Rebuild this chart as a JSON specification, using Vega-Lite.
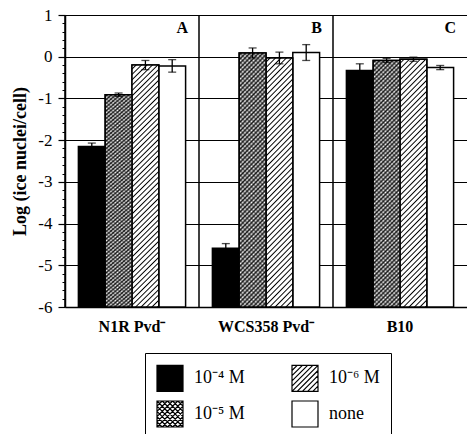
{
"$schema": "https://vega.github.io/schema/vega-lite/v6.json",
"width": 402,
"height": 292,
"autosize": {"type": "none"},
"padding": {"left": 65, "top": 15, "right": 0, "bottom": 127},
"datasets": {
"bars": [
{"s":"N1R Pvd⁻","t":"10⁻⁴ M","v":-2.15,"lo":-2.23,"hi":-2.07},
{"s":"N1R Pvd⁻","t":"10⁻⁵ M","v":-0.91,"lo":-0.95,"hi":-0.87},
{"s":"N1R Pvd⁻","t":"10⁻⁶ M","v":-0.2,"lo":-0.31,"hi":-0.09},
{"s":"N1R Pvd⁻","t":"none","v":-0.22,"lo":-0.37,"hi":-0.07},
{"s":"WCS358 Pvd⁻","t":"10⁻⁴ M","v":-4.59,"lo":-4.7,"hi":-4.48},
{"s":"WCS358 Pvd⁻","t":"10⁻⁵ M","v":0.09,"lo":-0.03,"hi":0.21},
{"s":"WCS358 Pvd⁻","t":"10⁻⁶ M","v":-0.03,"lo":-0.17,"hi":0.11},
{"s":"WCS358 Pvd⁻","t":"none","v":0.1,"lo":-0.09,"hi":0.29},
{"s":"B10","t":"10⁻⁴ M","v":-0.33,"lo":-0.49,"hi":-0.17},
{"s":"B10","t":"10⁻⁵ M","v":-0.09,"lo":-0.14,"hi":-0.04},
{"s":"B10","t":"10⁻⁶ M","v":-0.06,"lo":-0.11,"hi":-0.01},
{"s":"B10","t":"none","v":-0.26,"lo":-0.31,"hi":-0.21}
],
"panels": [
{"s":"N1R Pvd⁻","p":"A"},
{"s":"WCS358 Pvd⁻","p":"B"},
{"s":"B10","p":"C"}
]
},
"config": {
"view": {"stroke": null},
"axisX": {"ticks": false, "tickSize": 0, "domainColor": "black", "domainWidth": 1.5, "labelFont": "Liberation Serif", "labelFontWeight": "bold", "labelFontSize": 16, "labelColor": "black", "labelPadding": 11, "labelAngle": 0, "grid": false}
},
"resolve": {"axis": {"y": "independent"}},
"layer": [
{
"data": {"name": "panels"},
"mark": {"type": "rule", "color": "black", "strokeWidth": 1.5},
"encoding": {
"x": {"field": "s", "type": "nominal", "bandPosition": 0, "title": null, "scale": {"domain": ["N1R Pvd⁻","WCS358 Pvd⁻","B10"], "paddingInner": 0, "paddingOuter": 0}}
}
},
{
"data": {"name": "bars"},
"resolve": {"axis": {"y": "independent"}},
"encoding": {
"x": {"field": "s", "type": "nominal", "title": null, "scale": {"domain": ["N1R Pvd⁻","WCS358 Pvd⁻","B10"], "paddingInner": 0, "paddingOuter": 0}},
"xOffset": {"field": "t", "type": "nominal", "scale": {"domain": ["10⁻⁴ M","10⁻⁵ M","10⁻⁶ M","none"], "paddingInner": 0, "paddingOuter": 0.5}}
},
"layer": [
{
"mark": {"type": "bar", "stroke": "black", "strokeWidth": 1.5},
"encoding": {
"y": {"field": "v", "type": "quantitative", "title": "Log (ice nuclei/cell)", "scale": {"domain": [-6, 1], "nice": false, "zero": false},
"axis": {
"orient": "left",
"values": [-6,-5,-4,-3,-2,-1,0,1],
"grid": true, "gridColor": "black", "gridWidth": 1.2,
"tickSize": 7, "tickColor": "black", "tickWidth": 1.2,
"domainColor": "black", "domainWidth": 1.5,
"labelExpr": "'' + datum.value",
"labelFont": "Liberation Serif", "labelFontSize": 17, "labelColor": "black", "labelPadding": 6, "labelFlush": false,
"titleFont": "Liberation Serif", "titleFontSize": 18, "titleFontWeight": "bold", "titleColor": "black", "titlePadding": 8
}
},
"y2": {"datum": -6},
"fill": {"field": "t", "type": "nominal",
"scale": {"domain": ["10⁻⁴ M","10⁻⁵ M","10⁻⁶ M","none"], "range": ["black","white","white","white"]},
"legend": {
"title": null, "orient": "none", "legendX": 80, "legendY": 338,
"columns": 2, "columnPadding": 44, "rowPadding": 4, "padding": 11,
"strokeColor": "black",
"symbolType": "square", "symbolSize": 676, "symbolStrokeColor": "black", "symbolStrokeWidth": 1.2, "symbolOpacity": 1,
"labelFont": "Liberation Serif", "labelFontSize": 18, "labelColor": "black", "labelOffset": 10, "labelLimit": 200
}
}
}
},
{
"transform": [{"filter": "false"}],
"mark": {"type": "point", "filled": false},
"encoding": {
"y": {"field": "v", "type": "quantitative", "axis": null},
"shape": {"field": "t", "type": "nominal",
"scale": {"domain": ["10⁻⁴ M","10⁻⁵ M","10⁻⁶ M","none"], "range": ["square",
"M-1,-1H1V1H-1Z M-0.6,-1L-1,-0.6 M-0.2,-1L-1,-0.2 M0.2,-1L-1,0.2 M0.6,-1L-1,0.6 M1,-1L-1,1 M1,-0.6L-0.6,1 M1,-0.2L-0.2,1 M1,0.2L0.2,1 M1,0.6L0.6,1 M-1,-1L1,1 M-0.6,-1L1,0.6 M-0.2,-1L1,0.2 M0.2,-1L1,-0.2 M0.6,-1L1,-0.6 M-1,-0.6L0.6,1 M-1,-0.2L0.2,1 M-1,0.2L-0.2,1 M-1,0.6L-0.6,1",
"M-1,-1H1V1H-1Z M-0.6,-1L-1,-0.6 M-0.2,-1L-1,-0.2 M0.2,-1L-1,0.2 M0.6,-1L-1,0.6 M1,-1L-1,1 M1,-0.6L-0.6,1 M1,-0.2L-0.2,1 M1,0.2L0.2,1 M1,0.6L0.6,1",
"square"]},
"legend": {
"title": null, "orient": "none", "legendX": 80, "legendY": 338,
"columns": 2, "columnPadding": 44, "rowPadding": 4, "padding": 11,
"strokeColor": "black",
"symbolType": "square", "symbolSize": 676, "symbolStrokeColor": "black", "symbolStrokeWidth": 1.2, "symbolOpacity": 1,
"labelFont": "Liberation Serif", "labelFontSize": 18, "labelColor": "black", "labelOffset": 10, "labelLimit": 200
}
}
}
},
{
"transform": [{"filter": {"field": "t", "equal": "10⁻⁶ M"}}],
"mark": {"type": "bar", "stroke": "black", "strokeWidth": 1.5, "fill": {"gradient": "linear", "x1": 0, "y1": 0, "x2": 0.12, "y2": 1.096, "stops": [
{"offset":0.01,"color":"#fff"},{"offset":0.015,"color":"#000"},{"offset":0.02,"color":"#fff"},
{"offset":0.03,"color":"#fff"},{"offset":0.035,"color":"#000"},{"offset":0.04,"color":"#fff"},
{"offset":0.05,"color":"#fff"},{"offset":0.055,"color":"#000"},{"offset":0.06,"color":"#fff"},
{"offset":0.07,"color":"#fff"},{"offset":0.075,"color":"#000"},{"offset":0.08,"color":"#fff"},
{"offset":0.09,"color":"#fff"},{"offset":0.095,"color":"#000"},{"offset":0.1,"color":"#fff"},
{"offset":0.11,"color":"#fff"},{"offset":0.115,"color":"#000"},{"offset":0.12,"color":"#fff"},
{"offset":0.13,"color":"#fff"},{"offset":0.135,"color":"#000"},{"offset":0.14,"color":"#fff"},
{"offset":0.15,"color":"#fff"},{"offset":0.155,"color":"#000"},{"offset":0.16,"color":"#fff"},
{"offset":0.17,"color":"#fff"},{"offset":0.175,"color":"#000"},{"offset":0.18,"color":"#fff"},
{"offset":0.19,"color":"#fff"},{"offset":0.195,"color":"#000"},{"offset":0.2,"color":"#fff"},
{"offset":0.21,"color":"#fff"},{"offset":0.215,"color":"#000"},{"offset":0.22,"color":"#fff"},
{"offset":0.23,"color":"#fff"},{"offset":0.235,"color":"#000"},{"offset":0.24,"color":"#fff"},
{"offset":0.25,"color":"#fff"},{"offset":0.255,"color":"#000"},{"offset":0.26,"color":"#fff"},
{"offset":0.27,"color":"#fff"},{"offset":0.275,"color":"#000"},{"offset":0.28,"color":"#fff"},
{"offset":0.29,"color":"#fff"},{"offset":0.295,"color":"#000"},{"offset":0.3,"color":"#fff"},
{"offset":0.31,"color":"#fff"},{"offset":0.315,"color":"#000"},{"offset":0.32,"color":"#fff"},
{"offset":0.33,"color":"#fff"},{"offset":0.335,"color":"#000"},{"offset":0.34,"color":"#fff"},
{"offset":0.35,"color":"#fff"},{"offset":0.355,"color":"#000"},{"offset":0.36,"color":"#fff"},
{"offset":0.37,"color":"#fff"},{"offset":0.375,"color":"#000"},{"offset":0.38,"color":"#fff"},
{"offset":0.39,"color":"#fff"},{"offset":0.395,"color":"#000"},{"offset":0.4,"color":"#fff"},
{"offset":0.41,"color":"#fff"},{"offset":0.415,"color":"#000"},{"offset":0.42,"color":"#fff"},
{"offset":0.43,"color":"#fff"},{"offset":0.435,"color":"#000"},{"offset":0.44,"color":"#fff"},
{"offset":0.45,"color":"#fff"},{"offset":0.455,"color":"#000"},{"offset":0.46,"color":"#fff"},
{"offset":0.47,"color":"#fff"},{"offset":0.475,"color":"#000"},{"offset":0.48,"color":"#fff"},
{"offset":0.49,"color":"#fff"},{"offset":0.495,"color":"#000"},{"offset":0.5,"color":"#fff"},
{"offset":0.51,"color":"#fff"},{"offset":0.515,"color":"#000"},{"offset":0.52,"color":"#fff"},
{"offset":0.53,"color":"#fff"},{"offset":0.535,"color":"#000"},{"offset":0.54,"color":"#fff"},
{"offset":0.55,"color":"#fff"},{"offset":0.555,"color":"#000"},{"offset":0.56,"color":"#fff"},
{"offset":0.57,"color":"#fff"},{"offset":0.575,"color":"#000"},{"offset":0.58,"color":"#fff"},
{"offset":0.59,"color":"#fff"},{"offset":0.595,"color":"#000"},{"offset":0.6,"color":"#fff"},
{"offset":0.61,"color":"#fff"},{"offset":0.615,"color":"#000"},{"offset":0.62,"color":"#fff"},
{"offset":0.63,"color":"#fff"},{"offset":0.635,"color":"#000"},{"offset":0.64,"color":"#fff"},
{"offset":0.65,"color":"#fff"},{"offset":0.655,"color":"#000"},{"offset":0.66,"color":"#fff"},
{"offset":0.67,"color":"#fff"},{"offset":0.675,"color":"#000"},{"offset":0.68,"color":"#fff"},
{"offset":0.69,"color":"#fff"},{"offset":0.695,"color":"#000"},{"offset":0.7,"color":"#fff"},
{"offset":0.71,"color":"#fff"},{"offset":0.715,"color":"#000"},{"offset":0.72,"color":"#fff"},
{"offset":0.73,"color":"#fff"},{"offset":0.735,"color":"#000"},{"offset":0.74,"color":"#fff"},
{"offset":0.75,"color":"#fff"},{"offset":0.755,"color":"#000"},{"offset":0.76,"color":"#fff"},
{"offset":0.77,"color":"#fff"},{"offset":0.775,"color":"#000"},{"offset":0.78,"color":"#fff"},
{"offset":0.79,"color":"#fff"},{"offset":0.795,"color":"#000"},{"offset":0.8,"color":"#fff"},
{"offset":0.81,"color":"#fff"},{"offset":0.815,"color":"#000"},{"offset":0.82,"color":"#fff"},
{"offset":0.83,"color":"#fff"},{"offset":0.835,"color":"#000"},{"offset":0.84,"color":"#fff"},
{"offset":0.85,"color":"#fff"},{"offset":0.855,"color":"#000"},{"offset":0.86,"color":"#fff"},
{"offset":0.87,"color":"#fff"},{"offset":0.875,"color":"#000"},{"offset":0.88,"color":"#fff"},
{"offset":0.89,"color":"#fff"},{"offset":0.895,"color":"#000"},{"offset":0.9,"color":"#fff"},
{"offset":0.91,"color":"#fff"},{"offset":0.915,"color":"#000"},{"offset":0.92,"color":"#fff"},
{"offset":0.93,"color":"#fff"},{"offset":0.935,"color":"#000"},{"offset":0.94,"color":"#fff"},
{"offset":0.95,"color":"#fff"},{"offset":0.955,"color":"#000"},{"offset":0.96,"color":"#fff"},
{"offset":0.97,"color":"#fff"},{"offset":0.975,"color":"#000"},{"offset":0.98,"color":"#fff"},
{"offset":0.99,"color":"#fff"},{"offset":0.995,"color":"#000"},{"offset":1,"color":"#fff"}
]}},
"encoding": {
"y": {"field": "v", "type": "quantitative", "axis": null},
"y2": {"datum": -6}
}
},
{
"transform": [{"filter": {"field": "t", "equal": "10⁻⁵ M"}}],
"mark": {"type": "bar", "strokeWidth": 0, "fill": {"gradient": "linear", "x1": 0, "y1": 0, "x2": 0.12, "y2": 1.096, "stops": [
{"offset":0,"color":"#fff"},{"offset":0.008,"color":"#222"},{"offset":0.016,"color":"#fff"},{"offset":0.024,"color":"#222"},{"offset":0.032,"color":"#fff"},
{"offset":0.04,"color":"#222"},{"offset":0.048,"color":"#fff"},{"offset":0.056,"color":"#222"},{"offset":0.064,"color":"#fff"},{"offset":0.072,"color":"#222"},
{"offset":0.08,"color":"#fff"},{"offset":0.088,"color":"#222"},{"offset":0.096,"color":"#fff"},{"offset":0.104,"color":"#222"},{"offset":0.112,"color":"#fff"},
{"offset":0.12,"color":"#222"},{"offset":0.128,"color":"#fff"},{"offset":0.136,"color":"#222"},{"offset":0.144,"color":"#fff"},{"offset":0.152,"color":"#222"},
{"offset":0.16,"color":"#fff"},{"offset":0.168,"color":"#222"},{"offset":0.176,"color":"#fff"},{"offset":0.184,"color":"#222"},{"offset":0.192,"color":"#fff"},
{"offset":0.2,"color":"#222"},{"offset":0.208,"color":"#fff"},{"offset":0.216,"color":"#222"},{"offset":0.224,"color":"#fff"},{"offset":0.232,"color":"#222"},
{"offset":0.24,"color":"#fff"},{"offset":0.248,"color":"#222"},{"offset":0.256,"color":"#fff"},{"offset":0.264,"color":"#222"},{"offset":0.272,"color":"#fff"},
{"offset":0.28,"color":"#222"},{"offset":0.288,"color":"#fff"},{"offset":0.296,"color":"#222"},{"offset":0.304,"color":"#fff"},{"offset":0.312,"color":"#222"},
{"offset":0.32,"color":"#fff"},{"offset":0.328,"color":"#222"},{"offset":0.336,"color":"#fff"},{"offset":0.344,"color":"#222"},{"offset":0.352,"color":"#fff"},
{"offset":0.36,"color":"#222"},{"offset":0.368,"color":"#fff"},{"offset":0.376,"color":"#222"},{"offset":0.384,"color":"#fff"},{"offset":0.392,"color":"#222"},
{"offset":0.4,"color":"#fff"},{"offset":0.408,"color":"#222"},{"offset":0.416,"color":"#fff"},{"offset":0.424,"color":"#222"},{"offset":0.432,"color":"#fff"},
{"offset":0.44,"color":"#222"},{"offset":0.448,"color":"#fff"},{"offset":0.456,"color":"#222"},{"offset":0.464,"color":"#fff"},{"offset":0.472,"color":"#222"},
{"offset":0.48,"color":"#fff"},{"offset":0.488,"color":"#222"},{"offset":0.496,"color":"#fff"},{"offset":0.504,"color":"#222"},{"offset":0.512,"color":"#fff"},
{"offset":0.52,"color":"#222"},{"offset":0.528,"color":"#fff"},{"offset":0.536,"color":"#222"},{"offset":0.544,"color":"#fff"},{"offset":0.552,"color":"#222"},
{"offset":0.56,"color":"#fff"},{"offset":0.568,"color":"#222"},{"offset":0.576,"color":"#fff"},{"offset":0.584,"color":"#222"},{"offset":0.592,"color":"#fff"},
{"offset":0.6,"color":"#222"},{"offset":0.608,"color":"#fff"},{"offset":0.616,"color":"#222"},{"offset":0.624,"color":"#fff"},{"offset":0.632,"color":"#222"},
{"offset":0.64,"color":"#fff"},{"offset":0.648,"color":"#222"},{"offset":0.656,"color":"#fff"},{"offset":0.664,"color":"#222"},{"offset":0.672,"color":"#fff"},
{"offset":0.68,"color":"#222"},{"offset":0.688,"color":"#fff"},{"offset":0.696,"color":"#222"},{"offset":0.704,"color":"#fff"},{"offset":0.712,"color":"#222"},
{"offset":0.72,"color":"#fff"},{"offset":0.728,"color":"#222"},{"offset":0.736,"color":"#fff"},{"offset":0.744,"color":"#222"},{"offset":0.752,"color":"#fff"},
{"offset":0.76,"color":"#222"},{"offset":0.768,"color":"#fff"},{"offset":0.776,"color":"#222"},{"offset":0.784,"color":"#fff"},{"offset":0.792,"color":"#222"},
{"offset":0.8,"color":"#fff"},{"offset":0.808,"color":"#222"},{"offset":0.816,"color":"#fff"},{"offset":0.824,"color":"#222"},{"offset":0.832,"color":"#fff"},
{"offset":0.84,"color":"#222"},{"offset":0.848,"color":"#fff"},{"offset":0.856,"color":"#222"},{"offset":0.864,"color":"#fff"},{"offset":0.872,"color":"#222"},
{"offset":0.88,"color":"#fff"},{"offset":0.888,"color":"#222"},{"offset":0.896,"color":"#fff"},{"offset":0.904,"color":"#222"},{"offset":0.912,"color":"#fff"},
{"offset":0.92,"color":"#222"},{"offset":0.928,"color":"#fff"},{"offset":0.936,"color":"#222"},{"offset":0.944,"color":"#fff"},{"offset":0.952,"color":"#222"},
{"offset":0.96,"color":"#fff"},{"offset":0.968,"color":"#222"},{"offset":0.976,"color":"#fff"},{"offset":0.984,"color":"#222"},{"offset":0.992,"color":"#fff"},
{"offset":1,"color":"#222"}
]}},
"encoding": {
"y": {"field": "v", "type": "quantitative", "axis": null},
"y2": {"datum": -6}
}
},
{
"transform": [{"filter": {"field": "t", "equal": "10⁻⁵ M"}}],
"mark": {"type": "bar", "stroke": "black", "strokeWidth": 1.5, "fill": {"gradient": "linear", "x1": 0, "y1": 1, "x2": 0.12, "y2": -0.096, "stops": [
{"offset":0,"color":"rgba(0,0,0,0)"},{"offset":0.008,"color":"rgba(0,0,0,0.5)"},{"offset":0.016,"color":"rgba(0,0,0,0)"},{"offset":0.024,"color":"rgba(0,0,0,0.5)"},{"offset":0.032,"color":"rgba(0,0,0,0)"},
{"offset":0.04,"color":"rgba(0,0,0,0.5)"},{"offset":0.048,"color":"rgba(0,0,0,0)"},{"offset":0.056,"color":"rgba(0,0,0,0.5)"},{"offset":0.064,"color":"rgba(0,0,0,0)"},{"offset":0.072,"color":"rgba(0,0,0,0.5)"},
{"offset":0.08,"color":"rgba(0,0,0,0)"},{"offset":0.088,"color":"rgba(0,0,0,0.5)"},{"offset":0.096,"color":"rgba(0,0,0,0)"},{"offset":0.104,"color":"rgba(0,0,0,0.5)"},{"offset":0.112,"color":"rgba(0,0,0,0)"},
{"offset":0.12,"color":"rgba(0,0,0,0.5)"},{"offset":0.128,"color":"rgba(0,0,0,0)"},{"offset":0.136,"color":"rgba(0,0,0,0.5)"},{"offset":0.144,"color":"rgba(0,0,0,0)"},{"offset":0.152,"color":"rgba(0,0,0,0.5)"},
{"offset":0.16,"color":"rgba(0,0,0,0)"},{"offset":0.168,"color":"rgba(0,0,0,0.5)"},{"offset":0.176,"color":"rgba(0,0,0,0)"},{"offset":0.184,"color":"rgba(0,0,0,0.5)"},{"offset":0.192,"color":"rgba(0,0,0,0)"},
{"offset":0.2,"color":"rgba(0,0,0,0.5)"},{"offset":0.208,"color":"rgba(0,0,0,0)"},{"offset":0.216,"color":"rgba(0,0,0,0.5)"},{"offset":0.224,"color":"rgba(0,0,0,0)"},{"offset":0.232,"color":"rgba(0,0,0,0.5)"},
{"offset":0.24,"color":"rgba(0,0,0,0)"},{"offset":0.248,"color":"rgba(0,0,0,0.5)"},{"offset":0.256,"color":"rgba(0,0,0,0)"},{"offset":0.264,"color":"rgba(0,0,0,0.5)"},{"offset":0.272,"color":"rgba(0,0,0,0)"},
{"offset":0.28,"color":"rgba(0,0,0,0.5)"},{"offset":0.288,"color":"rgba(0,0,0,0)"},{"offset":0.296,"color":"rgba(0,0,0,0.5)"},{"offset":0.304,"color":"rgba(0,0,0,0)"},{"offset":0.312,"color":"rgba(0,0,0,0.5)"},
{"offset":0.32,"color":"rgba(0,0,0,0)"},{"offset":0.328,"color":"rgba(0,0,0,0.5)"},{"offset":0.336,"color":"rgba(0,0,0,0)"},{"offset":0.344,"color":"rgba(0,0,0,0.5)"},{"offset":0.352,"color":"rgba(0,0,0,0)"},
{"offset":0.36,"color":"rgba(0,0,0,0.5)"},{"offset":0.368,"color":"rgba(0,0,0,0)"},{"offset":0.376,"color":"rgba(0,0,0,0.5)"},{"offset":0.384,"color":"rgba(0,0,0,0)"},{"offset":0.392,"color":"rgba(0,0,0,0.5)"},
{"offset":0.4,"color":"rgba(0,0,0,0)"},{"offset":0.408,"color":"rgba(0,0,0,0.5)"},{"offset":0.416,"color":"rgba(0,0,0,0)"},{"offset":0.424,"color":"rgba(0,0,0,0.5)"},{"offset":0.432,"color":"rgba(0,0,0,0)"},
{"offset":0.44,"color":"rgba(0,0,0,0.5)"},{"offset":0.448,"color":"rgba(0,0,0,0)"},{"offset":0.456,"color":"rgba(0,0,0,0.5)"},{"offset":0.464,"color":"rgba(0,0,0,0)"},{"offset":0.472,"color":"rgba(0,0,0,0.5)"},
{"offset":0.48,"color":"rgba(0,0,0,0)"},{"offset":0.488,"color":"rgba(0,0,0,0.5)"},{"offset":0.496,"color":"rgba(0,0,0,0)"},{"offset":0.504,"color":"rgba(0,0,0,0.5)"},{"offset":0.512,"color":"rgba(0,0,0,0)"},
{"offset":0.52,"color":"rgba(0,0,0,0.5)"},{"offset":0.528,"color":"rgba(0,0,0,0)"},{"offset":0.536,"color":"rgba(0,0,0,0.5)"},{"offset":0.544,"color":"rgba(0,0,0,0)"},{"offset":0.552,"color":"rgba(0,0,0,0.5)"},
{"offset":0.56,"color":"rgba(0,0,0,0)"},{"offset":0.568,"color":"rgba(0,0,0,0.5)"},{"offset":0.576,"color":"rgba(0,0,0,0)"},{"offset":0.584,"color":"rgba(0,0,0,0.5)"},{"offset":0.592,"color":"rgba(0,0,0,0)"},
{"offset":0.6,"color":"rgba(0,0,0,0.5)"},{"offset":0.608,"color":"rgba(0,0,0,0)"},{"offset":0.616,"color":"rgba(0,0,0,0.5)"},{"offset":0.624,"color":"rgba(0,0,0,0)"},{"offset":0.632,"color":"rgba(0,0,0,0.5)"},
{"offset":0.64,"color":"rgba(0,0,0,0)"},{"offset":0.648,"color":"rgba(0,0,0,0.5)"},{"offset":0.656,"color":"rgba(0,0,0,0)"},{"offset":0.664,"color":"rgba(0,0,0,0.5)"},{"offset":0.672,"color":"rgba(0,0,0,0)"},
{"offset":0.68,"color":"rgba(0,0,0,0.5)"},{"offset":0.688,"color":"rgba(0,0,0,0)"},{"offset":0.696,"color":"rgba(0,0,0,0.5)"},{"offset":0.704,"color":"rgba(0,0,0,0)"},{"offset":0.712,"color":"rgba(0,0,0,0.5)"},
{"offset":0.72,"color":"rgba(0,0,0,0)"},{"offset":0.728,"color":"rgba(0,0,0,0.5)"},{"offset":0.736,"color":"rgba(0,0,0,0)"},{"offset":0.744,"color":"rgba(0,0,0,0.5)"},{"offset":0.752,"color":"rgba(0,0,0,0)"},
{"offset":0.76,"color":"rgba(0,0,0,0.5)"},{"offset":0.768,"color":"rgba(0,0,0,0)"},{"offset":0.776,"color":"rgba(0,0,0,0.5)"},{"offset":0.784,"color":"rgba(0,0,0,0)"},{"offset":0.792,"color":"rgba(0,0,0,0.5)"},
{"offset":0.8,"color":"rgba(0,0,0,0)"},{"offset":0.808,"color":"rgba(0,0,0,0.5)"},{"offset":0.816,"color":"rgba(0,0,0,0)"},{"offset":0.824,"color":"rgba(0,0,0,0.5)"},{"offset":0.832,"color":"rgba(0,0,0,0)"},
{"offset":0.84,"color":"rgba(0,0,0,0.5)"},{"offset":0.848,"color":"rgba(0,0,0,0)"},{"offset":0.856,"color":"rgba(0,0,0,0.5)"},{"offset":0.864,"color":"rgba(0,0,0,0)"},{"offset":0.872,"color":"rgba(0,0,0,0.5)"},
{"offset":0.88,"color":"rgba(0,0,0,0)"},{"offset":0.888,"color":"rgba(0,0,0,0.5)"},{"offset":0.896,"color":"rgba(0,0,0,0)"},{"offset":0.904,"color":"rgba(0,0,0,0.5)"},{"offset":0.912,"color":"rgba(0,0,0,0)"},
{"offset":0.92,"color":"rgba(0,0,0,0.5)"},{"offset":0.928,"color":"rgba(0,0,0,0)"},{"offset":0.936,"color":"rgba(0,0,0,0.5)"},{"offset":0.944,"color":"rgba(0,0,0,0)"},{"offset":0.952,"color":"rgba(0,0,0,0.5)"},
{"offset":0.96,"color":"rgba(0,0,0,0)"},{"offset":0.968,"color":"rgba(0,0,0,0.5)"},{"offset":0.976,"color":"rgba(0,0,0,0)"},{"offset":0.984,"color":"rgba(0,0,0,0.5)"},{"offset":0.992,"color":"rgba(0,0,0,0)"},
{"offset":1,"color":"rgba(0,0,0,0.5)"}
]}},
"encoding": {
"y": {"field": "v", "type": "quantitative", "axis": null},
"y2": {"datum": -6}
}
},
{
"mark": {"type": "rule", "color": "black", "strokeWidth": 1.3},
"encoding": {
"y": {"field": "lo", "type": "quantitative", "axis": null},
"y2": {"field": "hi"}
}
},
{
"mark": {"type": "tick", "color": "black", "size": 8, "thickness": 1.3},
"encoding": {
"y": {"field": "lo", "type": "quantitative", "title": null,
"axis": {"orient": "left", "values": [-5.8,-5.6,-5.4,-5.2,-4.8,-4.6,-4.4,-4.2,-3.8,-3.6,-3.4,-3.2,-2.8,-2.6,-2.4,-2.2,-1.8,-1.6,-1.4,-1.2,-0.8,-0.6,-0.4,-0.2,0.2,0.4,0.6,0.8],
"labels": false, "domain": false, "grid": false, "ticks": true, "tickSize": 3, "tickColor": "black", "tickWidth": 1, "title": null}}
}
},
{
"mark": {"type": "tick", "color": "black", "size": 8, "thickness": 1.3},
"encoding": {
"y": {"field": "hi", "type": "quantitative", "axis": null}
}
}
]
},
{
"data": {"name": "panels"},
"mark": {"type": "text", "font": "Liberation Serif", "fontWeight": "bold", "fontSize": 16, "align": "right", "baseline": "top", "dx": -11, "dy": 5, "color": "black"},
"encoding": {
"x": {"field": "s", "type": "nominal", "bandPosition": 1, "title": null},
"y": {"datum": 1, "type": "quantitative", "axis": null},
"text": {"field": "p"}
}
}
]
}
